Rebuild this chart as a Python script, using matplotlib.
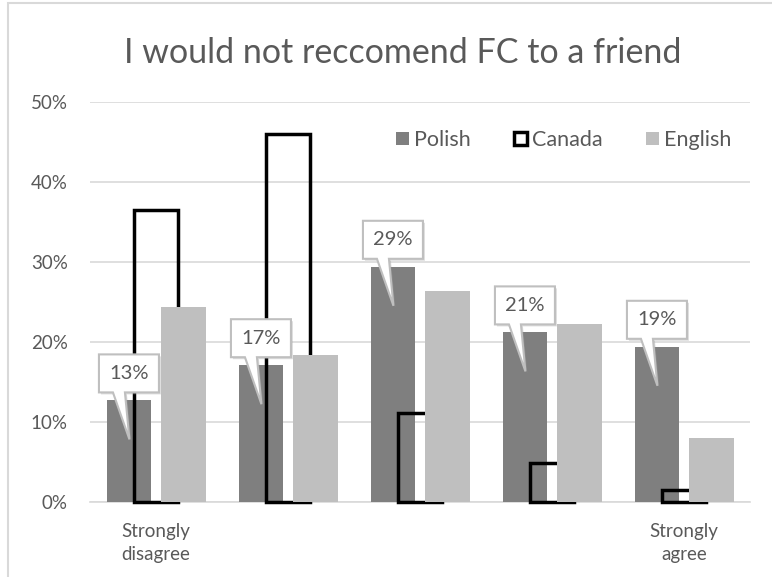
import numpy as np
import matplotlib
matplotlib.use("Agg")
from matplotlib import pyplot as plt
from matplotlib.patches import Patch, Polygon, Rectangle

plt.rcParams["font.family"] = ["Lato", "DejaVu Sans"]

categories = ["Strongly\ndisagree", "", "", "", "Strongly\nagree"]
polish = [12.7, 17.1, 29.4, 21.2, 19.4]
canada = [36.5, 46.0, 11.1, 4.9, 1.5]
english = [24.4, 18.4, 26.4, 22.3, 8.0]
y_ticks = [0, 10, 20, 30, 40, 50]

text_gray = "#595959"
dark = "#7f7f7f"
light = "#bfbfbf"
grid_gray = "#d9d9d9"

W, H, DPI = 772, 577, 100
fig = plt.figure(figsize=(W / DPI, H / DPI), dpi=DPI)
ax = fig.add_axes([90 / W, 1 - 502 / H, 660 / W, 400 / H])

x = np.arange(len(categories))
bw = 0.34
off = 0.205

ax.bar(x - off, polish, bw, color=dark, zorder=2)
cbars = ax.bar(x, canada, bw, fill=False, edgecolor="black", linewidth=2.5,
               joinstyle="miter", zorder=3)
for b in cbars:
    b.set_clip_on(False)
ax.bar(x + off, english, bw, color=light, zorder=4)

ax.set_xlim(-0.5, len(categories) - 0.5)
ax.set_ylim(0, 50)
ax.set_yticks(y_ticks)
ax.set_yticklabels(["{}%".format(t) for t in y_ticks])
ax.set_xticks(x)
ax.set_xticklabels(categories, linespacing=1.45)
ax.tick_params(length=0, colors=text_gray, labelsize=13.5)
ax.tick_params(axis="y", pad=16)
ax.tick_params(axis="x", pad=15)
ax.yaxis.grid(True, color=grid_gray, linewidth=1.2, zorder=0)
ax.set_axisbelow(True)
for side in ["left", "right", "top"]:
    ax.spines[side].set_visible(False)
ax.spines["bottom"].set_color(grid_gray)
ax.spines["bottom"].set_linewidth(1.2)
ax.spines["bottom"].set_zorder(1)

fig.text(403 / W, 1 - 53 / H, "I would not reccomend FC to a friend",
         ha="center", va="center", fontsize=24.5, color=text_gray)

handles = [Patch(facecolor=dark, edgecolor="none", label="Polish"),
           Patch(facecolor="white", edgecolor="black", linewidth=2.5, label="Canada"),
           Patch(facecolor=light, edgecolor="none", label="English")]
ax.legend(handles=handles, ncol=3, frameon=False, loc="center right",
          bbox_to_anchor=(0.972, 0.905), fontsize=15.5, labelcolor=text_gray,
          handlelength=0.6, handleheight=0.6, handletextpad=0.25,
          columnspacing=2.0, borderaxespad=0, borderpad=0)

# callout boxes for the Polish values, built in pixel space around the bar top
for xi, v in zip(x - off, polish):
    cx, ty = ax.transData.transform((xi, v))
    top, bot = ty + 46, ty + 8
    pts = [(cx - 30, bot), (cx - 30, top), (cx + 30, top), (cx + 30, bot),
           (cx - 4, bot), (cx + 0.5, ty - 39), (cx - 16, bot)]
    shadow = [(px + 2, py - 2) for px, py in pts]
    ax.add_patch(Polygon(shadow, closed=True, transform=None, facecolor="#a0a0a0",
                         edgecolor="none", alpha=0.35, zorder=5))
    ax.add_patch(Polygon(pts, closed=True, transform=None, facecolor="white",
                         edgecolor=light, linewidth=1.5, joinstyle="miter", zorder=6))
    tx, tyy = ax.transData.inverted().transform((cx, (top + bot) / 2))
    ax.text(tx, tyy, "{:.0f}%".format(v), ha="center", va="center",
            fontsize=14.5, color=text_gray, zorder=7)

fig.add_artist(Rectangle((8 / W, -0.1), 1.2, 1.1 - 3 / H, transform=fig.transFigure,
                         fill=False, edgecolor=grid_gray, linewidth=1.5))

fig.savefig("out.png", dpi=DPI)
